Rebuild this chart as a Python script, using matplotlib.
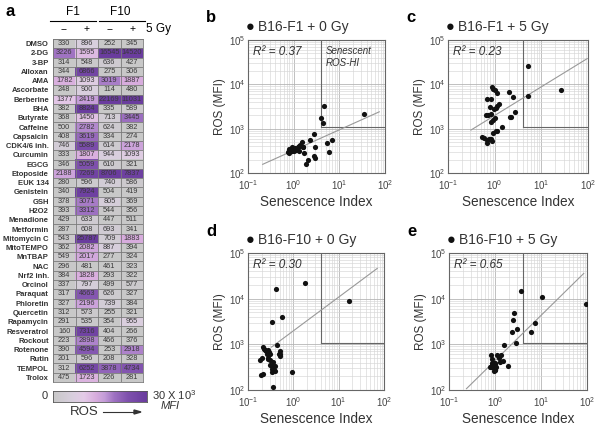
import matplotlib
matplotlib.use("Agg")
import matplotlib.pyplot as plt
import numpy as np
from matplotlib.colors import LinearSegmentedColormap, LogNorm

plt.rcParams['font.family'] = ['Liberation Sans', 'DejaVu Sans']
plt.rcParams['mathtext.fontset'] = 'custom'
plt.rcParams['mathtext.rm'] = 'Liberation Sans'
plt.rcParams['mathtext.it'] = 'Liberation Sans:italic'

# ---------------- DATA ----------------
compounds = ["DMSO", "2-DG", "3-BP", "Alloxan", "AMA", "Ascorbate", "Berberine", "BHA",
             "Butyrate", "Caffeine", "Capsaicin", "CDK4/6 inh.", "Curcumin", "EGCG",
             "Etoposide", "EUK 134", "Genistein", "GSH", "H2O2", "Menadione", "Metformin",
             "Mitomycin C", "MitoTEMPO", "MnTBAP", "NAC", "Nrf2 inh.", "Orcinol", "Paraquat",
             "Phloretin", "Quercetin", "Rapamycin", "Resveratrol", "Rockout", "Rotenone",
             "Rutin", "TEMPOL", "Trolox"]

# ROS (MFI) per condition
ros_f1_0 = [330, 3226, 314, 344, 1782, 248, 1377, 382, 368, 500, 408, 746, 333, 346, 2188,
            280, 340, 378, 393, 429, 287, 543, 362, 549, 296, 384, 337, 317, 327, 312, 291,
            160, 223, 390, 201, 312, 475]
ros_f1_5 = [896, 1595, 548, 6866, 1093, 900, 2419, 8824, 1450, 2782, 3619, 5589, 1807, 5059,
            7269, 596, 7924, 3071, 3312, 633, 608, 25787, 2082, 2017, 481, 1828, 797, 4663,
            2196, 573, 535, 7316, 2898, 4594, 596, 6252, 1723]
ros_f10_0 = [252, 16545, 636, 275, 3019, 114, 22169, 335, 713, 624, 334, 614, 944, 610, 8706,
             740, 504, 805, 544, 447, 693, 709, 887, 277, 461, 293, 499, 626, 739, 255, 354,
             404, 466, 253, 208, 3878, 226]
ros_f10_5 = [345, 14520, 427, 306, 1887, 480, 11031, 589, 3445, 382, 274, 2178, 1093, 321,
             7837, 586, 419, 369, 356, 511, 341, 1883, 394, 324, 323, 322, 577, 327, 384, 321,
             955, 266, 376, 2918, 328, 4734, 281]

# senescence index per condition (same compound order)
sen_f1_0 = [0.9, 4.7, 0.85, 1.0, 4.0, 2.8, 4.3, 1.6, 0.95, 1.5, 1.3, 2.8, 1.1, 0.8, 35,
            0.8, 1.2, 2.9, 0.9, 1.4, 1.7, 7.0, 1.05, 2.3, 0.75, 1.25, 0.85, 1.0, 0.95, 1.3,
            5.9, 1.9, 3.0, 1.6, 2.1, 0.9, 5.4]
sen_f1_5 = [1.1, 0.92, 0.7, 2.0, 1.45, 1.05, 2.7, 0.89, 0.85, 0.95, 1.23, 5.2, 2.2, 2.5, 26,
            0.8, 0.93, 0.79, 1.1, 0.53, 0.6, 5.3, 0.73, 0.66, 0.69, 2.1, 0.9, 0.67, 0.82,
            0.77, 0.87, 1.0, 1.05, 0.83, 0.85, 1.15, 1.0]
sen_f10_0 = [0.95, 0.42, 0.27, 0.36, 0.33, 0.36, 1.8, 0.4, 0.25, 0.48, 0.34, 0.3, 0.43, 0.26,
             17, 0.28, 0.2, 0.22, 0.5, 0.18, 0.29, 0.5, 0.21, 0.38, 0.31, 0.33, 0.27, 0.52,
             0.24, 0.4, 0.3, 0.36, 0.28, 0.34, 0.19, 0.57, 0.21]
sen_f10_5 = [0.9, 3.6, 1.5, 0.95, 2.4, 0.85, 10.5, 0.8, 2.5, 0.88, 1.0, 3.0, 2.9, 0.82, 95,
             1.1, 1.3, 0.92, 0.86, 1.2, 0.95, 6.2, 0.9, 1.0, 0.9, 1.05, 1.35, 0.78, 0.98, 1.0,
             1.6, 0.95, 1.0, 7.3, 1.9, 2.6, 1.02]

# fitted regression lines (endpoints)
fit_f1_0 = ([0.21, 75], [157, 2400])
fit_f1_5 = ([0.31, 96], [930, 38000])
fit_f10_0 = ([0.33, 71], [870, 46000])
fit_f10_5 = ([0.24, 85], [107, 35700])

r2_values = ["0.37", "0.23", "0.30", "0.65"]
panel_titles = ["B16-F1 + 0 Gy", "B16-F1 + 5 Gy", "B16-F10 + 0 Gy", "B16-F10 + 5 Gy"]

fig = plt.figure(figsize=(6.01, 4.28), dpi=100)

# ---------------- HEATMAP ----------------
cmap = LinearSegmentedColormap.from_list(
    "ros", [(0.0, "#c8c8c8"), (0.2, "#d8cfdd"), (0.33, "#e4cbe8"), (0.45, "#d9aede"),
            (0.55, "#c49cd8"), (0.65, "#9f72c2"), (0.8, "#7e50ad"), (1.0, "#6a3c9e")])
heat = np.array([ros_f1_0, ros_f1_5, ros_f10_0, ros_f10_5]).T
norm = LogNorm(vmin=500, vmax=9000, clip=True)

axh = fig.add_axes([53 / 601, 1 - 382 / 428, 90 / 601, 343 / 428])
axh.imshow(heat, cmap=cmap, norm=norm, aspect='auto', interpolation='nearest')
nr, nc = heat.shape
for i in range(nr):
    for j in range(nc):
        axh.text(j, i, str(heat[i, j]), ha='center', va='center', fontsize=5.3,
                 color='#3a3a3a')
axh.set_xticks(np.arange(-0.5, nc, 1), minor=True)
axh.set_yticks(np.arange(-0.5, nr, 1), minor=True)
axh.grid(which='minor', color='#7a7a7a', lw=0.6)
axh.tick_params(which='both', length=0)
axh.set_xticks([])
axh.set_yticks(range(nr))
axh.set_yticklabels(compounds, fontsize=5.5, fontweight='bold', color='#333333')
axh.tick_params(axis='y', pad=3)
for s in axh.spines.values():
    s.set_color('#7a7a7a')
    s.set_linewidth(0.6)

# headers
fig.text(5 / 601, 1 - 11 / 428, "a", fontsize=12, fontweight='bold', va='center')
fig.text(73 / 601, 1 - 12 / 428, "F1", fontsize=8.5, ha='center', va='center')
fig.text(120 / 601, 1 - 12 / 428, "F10", fontsize=8.5, ha='center', va='center')
fig.add_artist(plt.Line2D([50 / 601, 96 / 601], [1 - 21 / 428] * 2, color='k', lw=0.8))
fig.add_artist(plt.Line2D([99 / 601, 145 / 601], [1 - 21 / 428] * 2, color='k', lw=0.8))
for xp, lab in zip([64, 87, 110, 133], ["--", "+", "--", "+"]):
    fig.text(xp / 601, 1 - 29 / 428, lab, fontsize=7.5, ha='center', va='center')
fig.text(146 / 601, 1 - 29 / 428, "5 Gy", fontsize=8.5, ha='left', va='center')

# colour bar
axc = fig.add_axes([53 / 601, 1 - 402 / 428, 94 / 601, 11 / 428])
axc.imshow(np.linspace(0, 1, 256)[None, :], cmap=cmap, aspect='auto')
axc.set_xticks([])
axc.set_yticks([])
for s in axc.spines.values():
    s.set_color('#555555')
    s.set_linewidth(0.6)
fig.text(45 / 601, 1 - 396 / 428, "0", fontsize=8, ha='center', va='center', color='#333')
fig.text(152 / 601, 1 - 395 / 428, r"30 X 10$^3$", fontsize=8, ha='left', va='center',
         color='#333')
fig.text(170 / 601, 1 - 406 / 428, "MFI", fontsize=8, ha='center', va='center',
         style='italic', color='#333')
fig.text(84 / 601, 1 - 412 / 428, "ROS", fontsize=9.5, ha='center', va='center', color='#333')
fig.add_artist(plt.Line2D([103 / 601, 135 / 601], [1 - 412 / 428] * 2, color='#333', lw=0.8))
fig.add_artist(plt.Polygon([[134 / 601, 1 - 410 / 428], [141 / 601, 1 - 412 / 428],
                            [134 / 601, 1 - 414 / 428]], closed=True, color='#333'))

# ---------------- SCATTER PANELS ----------------
positions = [[248 / 601, 1 - 173 / 428, 137 / 601, 133 / 428],
             [448 / 601, 1 - 173 / 428, 140 / 601, 133 / 428],
             [248 / 601, 1 - 390 / 428, 136 / 601, 137 / 428],
             [449 / 601, 1 - 390 / 428, 138 / 601, 137 / 428]]
letters = ["b", "c", "d", "e"]
xs_all = [sen_f1_0, sen_f1_5, sen_f10_0, sen_f10_5]
ys_all = [ros_f1_0, ros_f1_5, ros_f10_0, ros_f10_5]
fits = [fit_f1_0, fit_f1_5, fit_f10_0, fit_f10_5]

for k in range(4):
    ax = fig.add_axes(positions[k])
    ax.set_xscale('log')
    ax.set_yscale('log')
    ax.set_xlim(0.1, 100)
    ax.set_ylim(100, 1e5)
    ax.grid(which='major', color='#b5b5b5', lw=0.6)
    ax.grid(which='minor', color='#d6d6d6', lw=0.45)
    ax.set_axisbelow(True)
    ax.tick_params(which='both', length=0, labelsize=7, colors='#444444')
    ax.tick_params(axis='x', pad=4)
    ax.tick_params(axis='y', pad=2)
    for s in ax.spines.values():
        s.set_color('#666666')
        s.set_linewidth(0.8)
    # senescent ROS-HI gate
    ax.plot([4, 4], [1080, 1e5], color='#666666', lw=0.8)
    ax.plot([4, 100], [1080, 1080], color='#666666', lw=0.8)
    ax.plot(fits[k][0], fits[k][1], color='#999999', lw=0.8)
    ax.scatter(xs_all[k], ys_all[k], s=14, color='#111111', zorder=3, linewidths=0)
    ax.text(0.13, 7.3e4, "R² = " + r2_values[k], fontsize=8.5, style='italic',
            color='#333333', va='top')
    if k == 0:
        ax.text(5.0, 7.3e4, "Senescent\nROS-HI", fontsize=7, style='italic',
                color='#333333', va='top', linespacing=1.2)
    ax.set_xlabel("Senescence Index", fontsize=9.8, color='#333333', labelpad=2)
    ax.set_ylabel("ROS (MFI)", fontsize=8.5, color='#333333', labelpad=2)
    bb = positions[k]
    fig.text(bb[0] - 42 / 601, bb[1] + bb[3] + 22 / 428, letters[k], fontsize=12,
             fontweight='bold', va='center')
    fig.text(bb[0] - 2 / 601, bb[1] + bb[3] + 13 / 428, "\u25CF", fontsize=10.5,
             va='center', color='#111111')
    fig.text(bb[0] + 10 / 601, bb[1] + bb[3] + 13 / 428, panel_titles[k], fontsize=10,
             va='center', color='#333333')

fig.savefig("out.png", dpi=100)
